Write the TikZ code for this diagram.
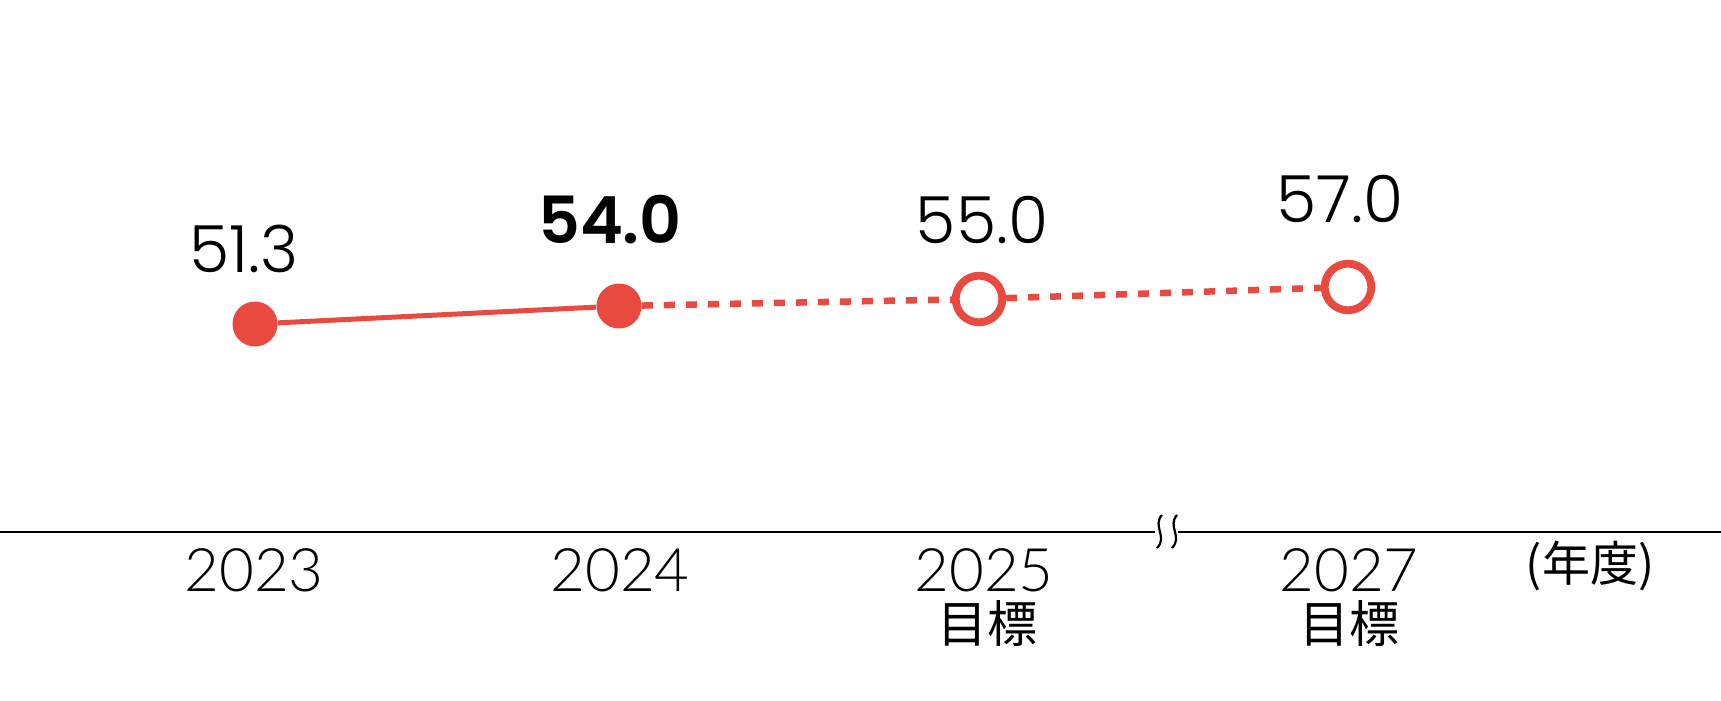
\documentclass[tikz,border=0pt]{standalone}
\usepackage{fontspec}
\setmainfont{Lato}[UprightFont=* Light]
\newfontfamily\valfont{Poppins}[UprightFont=* Light,BoldFont=* SemiBold]
\newfontfamily\jpfont{Noto Sans CJK JP}
\definecolor{chartred}{RGB}{232,74,64}

\begin{document}
\begin{tikzpicture}[x=0.5pt,y=-0.5pt]

      \useasboundingbox (0,0) rectangle (1721,701);

      % axis with break
      \coordinate (a0) at (0,532);
      \coordinate (a1) at (1155,532);
      \coordinate (a2) at (1178,532);
      \coordinate (a3) at (1721,532);
      \draw[line width=1.25pt] (a0) -- (a1);
      \draw[line width=1.25pt] (a2) -- (a3);
      \draw[line width=1.1pt] (1162,515) .. controls (1152,526) and (1168,537) .. (1157,548);
      \draw[line width=1.1pt] (1177,515) .. controls (1167,526) and (1183,537) .. (1172,548);

      \begin{scope}[every node/.style={circle,fill=chartred,minimum size=22.5pt,inner sep=0pt}]
        \node (2023) at (255,324) {};
        \node (2024) at (619,306) {};
      \end{scope}

      \begin{scope}[every node/.style={circle,draw=chartred,line width=3.9pt,fill=white,minimum size=23.3pt,inner sep=0pt}]
        \node (2025) at (979,299) {};
        \node (2027) at (1348,287) {};
      \end{scope}

      \begin{scope}[every edge/.style={draw=chartred,line width=2.5pt}]
        \path (2023) edge (2024);
      \end{scope}

      \begin{scope}[every edge/.style={draw=chartred,line width=3.25pt,dash pattern=on 5.5pt off 5.5pt}]
        \path (2024) edge (2025);
        \path (2025) edge (2027);
      \end{scope}

      % values
      \begin{scope}[every node/.style={anchor=base,inner sep=0pt,font=\valfont\fontsize{32.5pt}{38pt}\selectfont}]
        \node (v2023) at (244,272) {51.3};
        \node (v2024) at (610,243) {\bfseries 54.0};
        \node (v2025) at (982,243) {55.0};
        \node (v2027) at (1340,223) {57.0};
      \end{scope}

      % years
      \begin{scope}[every node/.style={anchor=base,inner sep=0pt,font=\fontsize{30pt}{36pt}\selectfont}]
        \node (t2023) at (254,591) {2023};
        \node (t2024) at (620,591) {2024};
        \node (t2025) at (984,591) {2025};
        \node (t2027) at (1349,591) {2027};
      \end{scope}

      \begin{scope}[every node/.style={inner sep=0pt,font=\jpfont\fontsize{25pt}{30pt}\selectfont}]
        \node (g2025) at (987,624) {目標};
        \node (g2027) at (1349,624) {目標};
        \node[font=\jpfont\fontsize{24pt}{30pt}\selectfont] (unit) at (1590,566) {(年度)};
      \end{scope}

    \end{tikzpicture}
\end{document}
